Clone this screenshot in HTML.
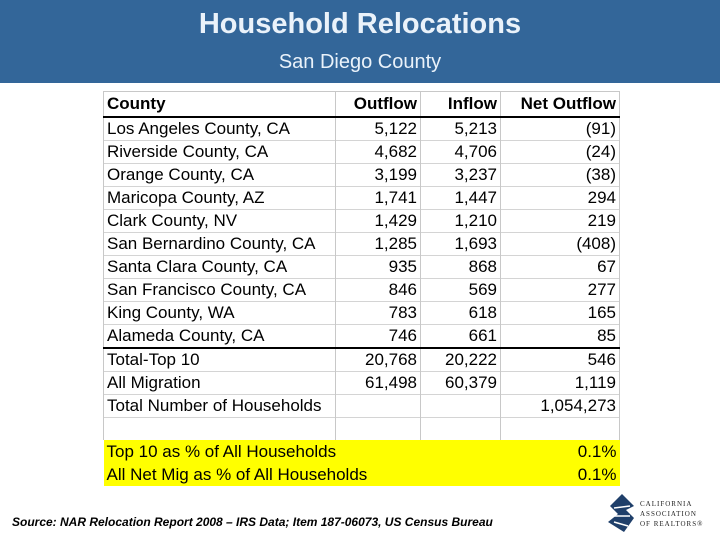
<!DOCTYPE html>
<html><head><meta charset="utf-8"><style>
body{margin:0;width:720px;height:540px;background:#fff;position:relative;overflow:hidden;font-family:"Liberation Sans",Arial,sans-serif}
#hdr{position:absolute;left:0;top:0;width:720px;height:83px;background:#336699}
#title{position:absolute;top:8px;width:720px;text-align:center;color:#eaf2fa;font-weight:bold;font-size:29px}
#sub{position:absolute;top:51px;width:720px;text-align:center;color:#eaf2fa;font-size:20px}
table{position:absolute;left:103px;top:91px;border-collapse:collapse;font-size:17px;color:#000}
td{border-left:1px solid #c8c8c8;border-right:1px solid #c8c8c8;border-top:1px solid #d4d4d4;height:22px;padding:0 3px;line-height:22px;white-space:nowrap}
td.n{text-align:right}
tr.h td{font-weight:bold;height:24px;border-bottom:2px solid #000;border-top:1px solid #c8c8c8}
tr.t td{border-top:2px solid #000}
tr.y td{background:#ffff00;border:none;height:23px;line-height:23px}
#src{position:absolute;left:12px;top:515px;font-size:12px;font-weight:bold;font-style:italic;color:#000}
#logo{position:absolute;left:604px;top:492px}
.lt{position:absolute;left:640px;font-family:"Liberation Serif",serif;font-size:7px;letter-spacing:1px;color:#222}
</style></head><body>
<div id="hdr">
<div id="title">Household Relocations</div>
<div id="sub">San Diego County</div>
</div>
<table>
<colgroup><col style="width:232px"><col style="width:85px"><col style="width:80px"><col style="width:119px"></colgroup>
<tr class="h"><td>County</td><td class="n">Outflow</td><td class="n">Inflow</td><td class="n">Net Outflow</td></tr>
<tr><td>Los Angeles County, CA</td><td class="n">5,122</td><td class="n">5,213</td><td class="n">(91)</td></tr>
<tr><td>Riverside County, CA</td><td class="n">4,682</td><td class="n">4,706</td><td class="n">(24)</td></tr>
<tr><td>Orange County, CA</td><td class="n">3,199</td><td class="n">3,237</td><td class="n">(38)</td></tr>
<tr><td>Maricopa County, AZ</td><td class="n">1,741</td><td class="n">1,447</td><td class="n">294</td></tr>
<tr><td>Clark County, NV</td><td class="n">1,429</td><td class="n">1,210</td><td class="n">219</td></tr>
<tr><td>San Bernardino County, CA</td><td class="n">1,285</td><td class="n">1,693</td><td class="n">(408)</td></tr>
<tr><td>Santa Clara County, CA</td><td class="n">935</td><td class="n">868</td><td class="n">67</td></tr>
<tr><td>San Francisco County, CA</td><td class="n">846</td><td class="n">569</td><td class="n">277</td></tr>
<tr><td>King County, WA</td><td class="n">783</td><td class="n">618</td><td class="n">165</td></tr>
<tr><td>Alameda County, CA</td><td class="n">746</td><td class="n">661</td><td class="n">85</td></tr>
<tr class="t"><td>Total-Top 10</td><td class="n">20,768</td><td class="n">20,222</td><td class="n">546</td></tr>
<tr><td>All Migration</td><td class="n">61,498</td><td class="n">60,379</td><td class="n">1,119</td></tr>
<tr><td>Total Number of Households</td><td></td><td></td><td class="n">1,054,273</td></tr>
<tr><td></td><td></td><td></td><td></td></tr>
<tr class="y"><td colspan="3">Top 10 as % of All Households</td><td class="n">0.1%</td></tr>
<tr class="y"><td colspan="3">All Net Mig as % of All Households</td><td class="n">0.1%</td></tr>
</table>
<div id="src">Source: NAR Relocation Report 2008 – IRS Data; Item 187-06073, US Census Bureau</div>
<svg id="logo" width="34" height="42">
<path d="M18 2 L30 14 L22 18 L30 26 L20 40 L4 30 L14 22 L6 14 Z" fill="#1f3f6a"/>
<path d="M10 16 L26 14 M10 24 L26 24 M10 30 L24 34" stroke="#fff" stroke-width="1.5"/>
</svg>
<div class="lt" style="top:500px">CALIFORNIA</div>
<div class="lt" style="top:510px">ASSOCIATION</div>
<div class="lt" style="top:520px">OF REALTORS®</div>
</body></html>
